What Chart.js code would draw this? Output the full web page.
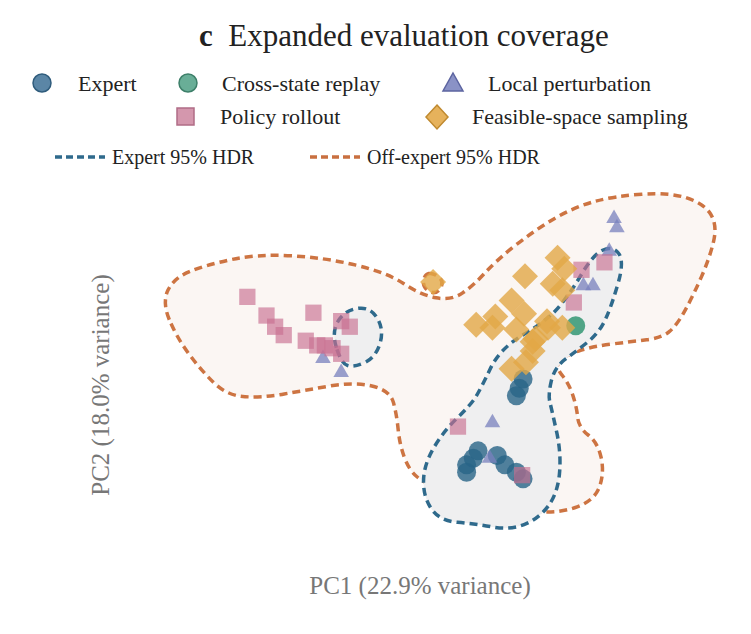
<!DOCTYPE html>
<html><head><meta charset="utf-8">
<script src="https://cdn.jsdelivr.net/npm/chart.js@4"></script>
<style>
body{margin:0;width:751px;height:634px;background:#fff;font-family:"Liberation Serif","DejaVu Serif",serif;position:relative;overflow:hidden}
.t{position:absolute;white-space:nowrap;color:#222;font-size:22px;line-height:1}
.mk{position:absolute}
#wrap{position:absolute;left:130px;top:170px;width:610px;height:390px}
</style></head><body>
<div class="t" style="left:199px;top:20px;font-size:31px"><b>c</b>&nbsp; Expanded evaluation coverage</div>

<svg class="mk" style="left:0;top:60px" width="751" height="110">
 <circle cx="42" cy="23" r="9" fill="#5b86a6" stroke="#2f5c7c" stroke-width="1.5"/>
 <circle cx="188" cy="23" r="9" fill="#69ae97" stroke="#3d7f69" stroke-width="1.5"/>
 <polygon points="453,13 463,31 443,31" fill="#8a92c6" stroke="#5c64a0" stroke-width="1.5"/>
 <rect x="177" y="48" width="17" height="17" fill="#d497ad" stroke="#b06c86" stroke-width="1.5"/>
 <polygon points="437,45 448,57 437,69 426,57" fill="#e6b25c" stroke="#c08a30" stroke-width="1.5"/>
 <line x1="55" y1="97" x2="105" y2="97" stroke="#2f6a8c" stroke-width="3.5" stroke-dasharray="7,4"/>
 <line x1="310" y1="97" x2="360" y2="97" stroke="#c97040" stroke-width="3.5" stroke-dasharray="7,4"/>
</svg>
<div class="t" style="left:78px;top:73px">Expert</div>
<div class="t" style="left:222px;top:73px">Cross-state replay</div>
<div class="t" style="left:488px;top:73px">Local perturbation</div>
<div class="t" style="left:220px;top:106px">Policy rollout</div>
<div class="t" style="left:472px;top:106px">Feasible-space sampling</div>
<div class="t" style="left:112px;top:147px;font-size:20px">Expert 95% HDR</div>
<div class="t" style="left:367px;top:147px;font-size:20px">Off-expert 95% HDR</div>
<div class="t" style="left:100px;top:385px;font-size:25px;color:#777;transform:translate(-50%,-50%) rotate(-90deg)">PC2 (18.0% variance)</div>
<div class="t" style="left:420px;top:585px;font-size:25px;color:#777;transform:translate(-50%,-50%)">PC1 (22.9% variance)</div>

<div id="wrap"><canvas id="c" width="610" height="390"></canvas></div>
<script>
// ── Data (PC1 / PC2 in plot units) ─────────────────────────────────────────
const expert = [[527,380],[523,390],[520,398],[480,457],[475,465],[468,472],[468,480],[500,462],[508,472],[520,480],[527,487]];
const replay = [[582,323]];
const perturb = [[318,358],[337,373],[622,208],[625,218],[590,280],[600,280],[617,243],[495,427],[492,465]];
const rollout = [[239,292],[259,312],[268,324],[277,333],[308,309],[300,339],[312,344],[320,344],[328,347],[337,353],[337,318],[346,324],[588,263],[612,255],[580,298],[459,431],[526,483]];
const feasible = [[433,276],[563,250],[570,262],[529,270],[558,278],[568,285],[515,296],[498,313],[528,310],[478,322],[495,325],[520,327],[553,325],[568,325],[540,337],[537,350],[530,362],[515,369],[537,340],[552,318]];

const offExpertHDR = [[150,298],[162,272],[195,258],[250,246],[320,250],[385,266],[420,290],[452,296],[475,280],[500,252],[540,220],[580,196],[622,184],[680,180],[716,192],[730,215],[722,250],[705,290],[688,322],[672,336],[640,340],[600,345],[570,355],[560,366],[575,385],[583,410],[585,432],[605,448],[612,480],[602,510],[565,524],[520,520],[490,522],[462,508],[425,492],[408,478],[398,450],[395,418],[388,392],[350,383],[300,392],[255,400],[218,398],[190,370],[165,335]];
const offExpertSmall = [[433,266],[445,276],[436,290],[422,282],[424,268]];
const expertHDRmain = [[620,237],[633,253],[620,300],[607,330],[583,350],[560,367],[553,397],[557,413],[567,460],[563,503],[543,530],[513,542],[477,535],[440,532],[423,507],[423,473],[443,437],[473,407],[483,390],[503,347],[553,317],[577,287],[600,247]];
const expertHDRleft = [[327,330],[340,307],[367,302],[382,327],[373,357],[350,368],[337,363]];

const pts = a => a.map(p => ({x:p[0], y:p[1]}));

function smoothPath(ctx, sx, sy, arr) {
  const p = arr.map(q => [sx.getPixelForValue(q[0]), sy.getPixelForValue(q[1])]);
  const n = p.length;
  const mid = (a,b) => [(a[0]+b[0])/2,(a[1]+b[1])/2];
  let m = mid(p[n-1], p[0]);
  ctx.beginPath(); ctx.moveTo(m[0], m[1]);
  for (let i = 0; i < n; i++) {
    const m2 = mid(p[i], p[(i+1)%n]);
    ctx.quadraticCurveTo(p[i][0], p[i][1], m2[0], m2[1]);
  }
  ctx.closePath();
}

const regions = {
  id: 'regions',
  beforeDatasetsDraw(chart) {
    const {ctx, scales:{x, y}} = chart;
    ctx.save();
    const draw = (arr, fill, stroke) => {
      smoothPath(ctx, x, y, arr);
      if (fill) { ctx.fillStyle = fill; ctx.fill(); }
      ctx.setLineDash([8,5]); ctx.lineWidth = 3.5; ctx.strokeStyle = stroke; ctx.stroke();
    };
    draw(offExpertHDR, '#fbf6f3', '#cd7442');
    draw(offExpertSmall, null, '#cd7442');
    draw(expertHDRmain, '#efeff0', '#2f6a8c');
    draw(expertHDRleft, '#efeff0', '#2f6a8c');
    ctx.restore();
  }
};

const ds = (data, style, bg, r) => ({data: pts(data), pointStyle: style, backgroundColor: bg, borderWidth: 0, pointRadius: r});

new Chart(document.getElementById('c'), {
  type: 'scatter',
  data: { datasets: [
    ds(feasible, 'rectRot', 'rgba(226,168,70,0.8)', 13),
    ds(rollout, 'rect', 'rgba(200,110,145,0.65)', 11.5),
    ds(perturb, 'triangle', 'rgba(120,128,190,0.75)', 9),
    ds(replay, 'circle', 'rgba(50,150,115,0.85)', 9.5),
    ds(expert, 'circle', 'rgba(40,100,135,0.8)', 9.5)
  ]},
  options: {
    responsive: false, animation: false, maintainAspectRatio: false,
    layout: { padding: 0 },
    plugins: { legend: { display: false }, tooltip: { enabled: false } },
    scales: {
      x: { type: 'linear', min: 130, max: 740, display: false },
      y: { type: 'linear', min: 170, max: 560, reverse: true, display: false }
    }
  },
  plugins: [regions]
});
</script>
</body></html>
